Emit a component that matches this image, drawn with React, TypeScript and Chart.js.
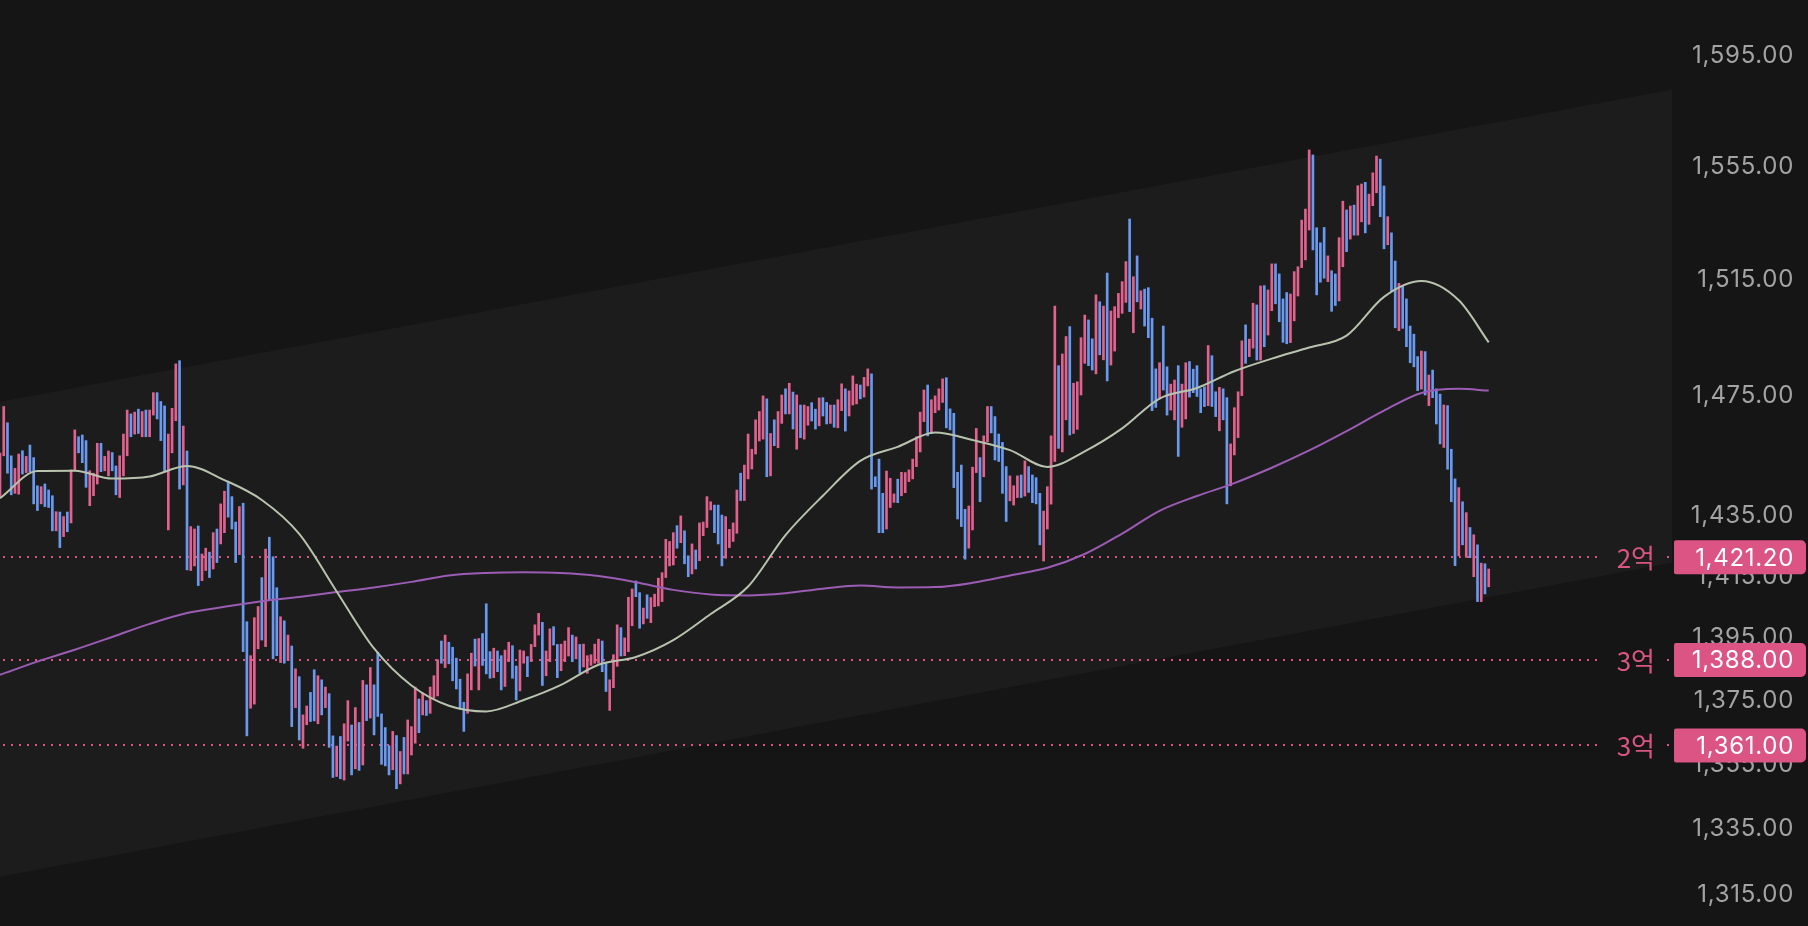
import { useEffect, useRef } from "react";
import { Chart, registerables } from "chart.js";

Chart.register(...registerables);

// slots across the plot width (candles + empty room on the right)
const SLOTS = 448;

// P = rising (pink), B = falling (blue)
const DIRECTION =
  "PPBBPPBPBB" + "BPBBBPBPBP" + "PBBBPPPBPP" + "BBPPPBPBPB" + "PPBBBPPPBP" +
  "BPPBPPBPBP" + "PBBBPBBPPP" + "BPBBBPBPBP" + "BPPBBPBPBB" + "PBPPBPBPBP" +
  "BBBBBPBPBP" + "PPBPBPPPBP" + "BBBBBPPBPB" + "BBPBBPPBBP" + "PBPPPBPPBB" +
  "PPPBPBPPPP" + "PBBPPPBPPP" + "BBPBPPPPPP" + "PBPBBPBPPP" + "PBBBPPPPBP" +
  "PPPPPBPBPP" + "BPBPBPPBBP" + "BBPBPPBPPP" + "BPPBBBBPPP" + "BPPPPPPPBP" +
  "PPPBBBBBBP" + "PPBPPBBBBB" + "PPPBPBBBBP" + "PPPBPPBPPP" + "PBBPBPBPPP" +
  "PPBPBPBBBB" + "PBBPPBPPBB" + "BBBPBBPBBP" + "PPPBPPBPBP" + "PBBBBPPPPP" +
  "PBBBBPBBPP" + "BPBPPBPPPB" + "BPBBPBBBBB" + "PBPBBBPBBB" + "PBPBPBPBP";

const LOWS = [
  1441.2, 1454.8, 1449.0, 1441.8, 1442.3, 1442.0, 1448.7, 1449.2, 1449.5, 1438.8,
  1436.6, 1438.8, 1437.9, 1437.6, 1429.9, 1429.9, 1424.4, 1428.0, 1429.6, 1432.5,
  1449.8, 1455.8, 1452.5, 1444.3, 1438.2, 1441.5, 1445.4, 1449.5, 1449.8, 1448.1,
  1449.8, 1441.8, 1440.9, 1448.1, 1454.8, 1461.2, 1462.1, 1462.3, 1461.2, 1461.2,
  1461.2, 1468.5, 1467.2, 1459.9, 1449.5, 1430.2, 1455.8, 1466.6, 1443.7, 1445.1,
  1417.1, 1416.9, 1418.4, 1412.0, 1413.6, 1416.9, 1414.6, 1417.4, 1419.5, 1425.6,
  1429.3, 1434.4, 1430.5, 1419.5, 1422.1, 1390.7, 1364.0, 1372.7, 1374.0, 1391.6,
  1394.4, 1392.3, 1407.3, 1388.4, 1389.4, 1387.2, 1387.0, 1387.8, 1366.9, 1372.9,
  1362.7, 1360.1, 1367.5, 1368.5, 1368.7, 1367.8, 1370.6, 1372.9, 1360.4, 1351.0,
  1351.3, 1350.6, 1350.2, 1362.4, 1351.8, 1353.7, 1353.2, 1354.9, 1368.8, 1369.6,
  1364.3, 1370.1, 1355.1, 1354.6, 1351.8, 1353.4, 1347.5, 1349.0, 1352.1, 1352.1,
  1358.0, 1361.7, 1365.0, 1370.6, 1370.4, 1371.1, 1375.9, 1376.6, 1387.0, 1385.6,
  1386.8, 1381.4, 1378.8, 1372.4, 1365.4, 1371.1, 1378.5, 1386.1, 1378.5, 1386.3,
  1383.6, 1382.2, 1382.4, 1384.3, 1378.5, 1379.6, 1387.5, 1382.2, 1375.3, 1378.2,
  1387.0, 1382.7, 1387.5, 1392.3, 1396.0, 1379.9, 1383.0, 1387.5, 1392.8, 1382.4,
  1384.6, 1387.5, 1389.3, 1387.5, 1388.4, 1383.8, 1385.8, 1383.8, 1386.3, 1387.0,
  1387.0, 1384.3, 1378.0, 1372.0, 1379.2, 1386.0, 1389.3, 1389.4, 1390.7, 1399.0,
  1408.4, 1398.2, 1399.6, 1401.4, 1400.0, 1405.2, 1405.4, 1406.8, 1414.6, 1418.4,
  1418.7, 1424.2, 1426.0, 1419.1, 1414.9, 1415.8, 1417.4, 1420.1, 1428.3, 1431.0,
  1436.8, 1429.3, 1425.6, 1418.4, 1420.9, 1424.4, 1426.4, 1429.1, 1439.9, 1439.9,
  1447.1, 1450.4, 1455.4, 1459.8, 1460.4, 1447.8, 1448.1, 1458.2, 1457.5, 1465.7,
  1468.9, 1468.9, 1463.8, 1457.0, 1460.9, 1460.4, 1465.1, 1466.5, 1463.8, 1464.9,
  1468.2, 1465.5, 1465.7, 1464.4, 1464.2, 1470.0, 1463.1, 1468.2, 1471.9, 1472.3,
  1474.0, 1474.6, 1478.4, 1443.7, 1444.5, 1429.3, 1429.3, 1430.5, 1437.6, 1439.3,
  1439.2, 1441.5, 1442.5, 1446.2, 1447.1, 1451.2, 1456.1, 1466.3, 1461.5, 1462.3,
  1469.3, 1470.2, 1472.8, 1464.2, 1463.5, 1444.2, 1433.8, 1431.3, 1420.6, 1424.2,
  1430.2, 1449.2, 1439.5, 1447.8, 1459.5, 1462.5, 1453.4, 1452.9, 1442.3, 1433.0,
  1439.8, 1438.4, 1440.9, 1440.9, 1441.4, 1442.6, 1439.2, 1438.8, 1425.3, 1420.0,
  1430.5, 1438.7, 1452.9, 1457.3, 1456.1, 1466.9, 1461.8, 1462.3, 1463.7, 1475.3,
  1486.1, 1485.3, 1483.8, 1482.5, 1489.0, 1487.3, 1480.1, 1485.5, 1490.3, 1501.8,
  1503.3, 1507.1, 1503.9, 1496.6, 1507.3, 1504.8, 1498.9, 1494.9, 1470.0, 1471.1,
  1474.0, 1477.0, 1468.5, 1470.2, 1466.9, 1454.6, 1464.4, 1467.2, 1474.6, 1476.1,
  1474.8, 1469.3, 1471.4, 1471.7, 1471.4, 1468.0, 1463.2, 1466.9, 1438.8, 1444.8,
  1455.1, 1460.9, 1475.1, 1486.1, 1488.4, 1491.3, 1487.2, 1487.2, 1491.8, 1495.8,
  1504.2, 1506.6, 1500.4, 1493.3, 1492.8, 1493.2, 1500.7, 1509.3, 1519.2, 1521.9,
  1532.4, 1525.4, 1509.7, 1514.1, 1515.5, 1514.3, 1504.0, 1506.0, 1507.6, 1519.5,
  1524.8, 1529.2, 1530.6, 1530.6, 1535.3, 1531.4, 1534.4, 1541.0, 1545.6, 1537.1,
  1525.8, 1527.2, 1510.8, 1498.3, 1497.3, 1498.1, 1491.8, 1486.3, 1484.9, 1476.8,
  1477.3, 1475.3, 1471.7, 1474.4, 1465.5, 1458.8, 1457.6, 1450.3, 1439.5, 1418.5,
  1421.7, 1425.3, 1421.2, 1421.1, 1414.9, 1406.8, 1406.8, 1409.3, 1411.6,
];

const HIGHS = [
  1455.7, 1471.4, 1465.9, 1454.8, 1450.6, 1455.4, 1456.5, 1454.6, 1458.4, 1454.2,
  1444.8, 1444.5, 1445.4, 1443.4, 1441.5, 1436.2, 1436.1, 1434.6, 1436.1, 1450.1,
  1463.5, 1461.2, 1461.8, 1459.9, 1449.8, 1449.0, 1459.0, 1459.0, 1454.6, 1456.4,
  1455.9, 1451.4, 1454.8, 1462.1, 1470.2, 1468.9, 1469.5, 1470.5, 1469.7, 1470.2,
  1470.2, 1476.1, 1476.1, 1473.1, 1471.6, 1462.1, 1470.8, 1485.9, 1487.0, 1464.8,
  1456.4, 1431.3, 1430.5, 1431.5, 1422.3, 1424.2, 1422.9, 1429.3, 1430.5, 1438.8,
  1443.0, 1445.9, 1441.2, 1432.8, 1437.9, 1439.0, 1400.3, 1389.4, 1401.6, 1405.2,
  1414.6, 1423.9, 1427.8, 1421.4, 1411.3, 1401.9, 1400.6, 1396.0, 1392.5, 1385.2,
  1382.7, 1370.6, 1373.4, 1377.7, 1384.9, 1383.0, 1381.7, 1379.4, 1377.3, 1364.0,
  1360.8, 1363.8, 1367.8, 1375.1, 1367.4, 1372.9, 1368.2, 1381.5, 1380.1, 1385.6,
  1380.1, 1390.5, 1370.9, 1366.6, 1360.9, 1365.4, 1364.1, 1359.1, 1363.5, 1369.0,
  1366.9, 1379.4, 1375.6, 1377.5, 1375.1, 1379.4, 1383.0, 1388.1, 1394.1, 1396.0,
  1393.7, 1392.1, 1388.6, 1381.9, 1374.6, 1383.6, 1390.2, 1394.7, 1394.9, 1396.5,
  1406.1, 1390.7, 1391.8, 1390.9, 1389.4, 1391.2, 1393.7, 1392.6, 1386.1, 1391.2,
  1390.9, 1389.1, 1393.0, 1399.3, 1403.0, 1400.1, 1390.9, 1398.0, 1398.7, 1393.0,
  1393.1, 1394.1, 1398.4, 1396.0, 1395.4, 1393.0, 1393.1, 1389.4, 1389.7, 1393.1,
  1394.7, 1394.1, 1387.0, 1381.7, 1389.7, 1399.3, 1398.4, 1395.1, 1408.2, 1410.9,
  1413.5, 1409.7, 1404.7, 1409.0, 1408.1, 1409.2, 1414.4, 1416.2, 1427.1, 1426.4,
  1429.3, 1431.6, 1434.8, 1429.9, 1421.7, 1425.6, 1423.6, 1432.5, 1432.8, 1441.2,
  1439.5, 1438.4, 1438.4, 1435.1, 1434.6, 1430.4, 1432.5, 1443.4, 1449.0, 1451.7,
  1462.1, 1457.0, 1466.9, 1469.7, 1475.0, 1474.0, 1462.3, 1466.9, 1469.7, 1475.3,
  1477.4, 1479.3, 1476.3, 1475.3, 1471.9, 1471.9, 1471.4, 1472.7, 1470.5, 1474.3,
  1474.4, 1472.8, 1471.9, 1471.9, 1473.7, 1479.1, 1477.4, 1476.7, 1481.8, 1479.0,
  1478.7, 1481.3, 1484.2, 1482.5, 1447.8, 1453.7, 1442.3, 1449.7, 1447.3, 1442.1,
  1447.0, 1449.3, 1449.2, 1450.1, 1453.7, 1461.2, 1469.5, 1477.0, 1478.7, 1473.7,
  1475.0, 1477.4, 1480.8, 1481.2, 1470.6, 1469.1, 1449.3, 1451.7, 1437.0, 1438.1,
  1451.0, 1464.0, 1454.2, 1461.5, 1471.4, 1471.4, 1468.0, 1462.1, 1459.3, 1451.2,
  1448.1, 1444.8, 1448.1, 1448.4, 1453.1, 1451.2, 1448.4, 1447.5, 1442.3, 1436.4,
  1444.5, 1461.5, 1505.8, 1485.3, 1489.3, 1495.3, 1498.7, 1479.3, 1479.8, 1494.9,
  1502.7, 1501.0, 1494.5, 1509.7, 1507.3, 1505.8, 1517.3, 1504.1, 1505.6, 1510.2,
  1514.3, 1521.3, 1536.3, 1516.0, 1523.3, 1511.1, 1511.7, 1512.2, 1501.6, 1484.2,
  1486.3, 1498.9, 1484.9, 1479.0, 1480.4, 1485.3, 1479.0, 1486.3, 1486.7, 1484.1,
  1485.3, 1477.4, 1478.1, 1492.2, 1488.7, 1476.4, 1477.9, 1477.4, 1474.4, 1458.8,
  1471.0, 1476.4, 1493.8, 1499.3, 1494.4, 1506.8, 1506.2, 1512.8, 1512.9, 1511.4,
  1520.5, 1520.5, 1517.0, 1508.3, 1510.5, 1510.0, 1517.8, 1519.5, 1535.9, 1539.8,
  1560.9, 1559.1, 1533.2, 1527.9, 1533.3, 1523.3, 1518.1, 1517.0, 1529.7, 1542.6,
  1539.5, 1540.9, 1541.2, 1548.1, 1548.7, 1549.3, 1545.1, 1552.7, 1558.7, 1557.6,
  1548.0, 1537.1, 1531.4, 1521.5, 1513.7, 1512.9, 1508.3, 1498.9, 1496.1, 1488.4,
  1490.3, 1490.1, 1482.1, 1483.8, 1477.4, 1475.6, 1471.9, 1471.7, 1457.0, 1447.1,
  1444.2, 1439.5, 1435.9, 1431.0, 1428.6, 1425.3, 1419.3, 1419.1, 1417.4,
];

// moving averages, read every 10th candle
const MA_INDEX = [
  0, 10, 20, 30, 40, 50, 60, 70, 80, 90, 100, 110, 120, 130, 140, 150, 160, 170, 180, 190,
  200, 210, 220, 230, 240, 250, 260, 270, 280, 290, 300, 310, 320, 330, 340, 350, 360, 370,
  380, 390, 398,
];
const MA_SHORT = [
  1440.7, 1449.7, 1449.8, 1447.2, 1447.9, 1451.4, 1446.7, 1440.1, 1428.9, 1410.1,
  1391.7, 1379.9, 1373.5, 1371.7, 1375.3, 1380.1, 1386.5, 1389.0, 1394.4, 1402.8,
  1411.7, 1428.5, 1441.5, 1453.1, 1457.8, 1462.6, 1460.1, 1456.7, 1451.1, 1456.3,
  1464.0, 1474.1, 1477.7, 1483.4, 1487.7, 1491.5, 1495.6, 1509.0, 1514.5, 1507.8,
  1493.3,
];
const MA_LONG = [
  1383.3, 1387.5, 1391.3, 1395.4, 1399.6, 1403.1, 1405.1, 1406.9, 1408.3, 1409.9,
  1411.4, 1413.2, 1415.3, 1416.1, 1416.3, 1416.1, 1415.1, 1413.1, 1410.6, 1409.1,
  1408.8, 1409.5, 1411.0, 1412.0, 1411.4, 1411.5, 1412.9, 1415.3, 1417.8, 1422.3,
  1429.0, 1436.5, 1441.4, 1445.7, 1450.8, 1456.6, 1463.1, 1470.0, 1476.0, 1477.4,
  1476.8,
];

// trend channel: values at the left and right edges of the plot
const CHANNEL_TOP = [1473.0, 1582.8];
const CHANNEL_BOTTOM = [1320.5, 1419.4];

const LEVEL_PRICES = [1421.2, 1388.0, 1361.0];
const LEVEL_TAGS = ["2억", "3억", "3억"];

const Y_TICKS = [1315, 1335, 1355, 1375, 1395, 1415, 1435, 1475, 1515, 1555, 1595];
const Y_MIN = 1305.6;
const Y_MAX = 1615.7;

const BG = "#151515";
const CHANNEL_FILL = "#1c1c1c";
const PINK = "#e2628f";
const BLUE = "#6a9af0";
const LEVEL_PINK = "#dc5484";
const TICK_FONT = "Inter";
const TICK_SPACING = "0.7px";

const fmt = (v: number) =>
  v.toLocaleString("en-US", { minimumFractionDigits: 2, maximumFractionDigits: 2 });

const sparse = (values: number[]) => {
  const out: (number | null)[] = new Array(SLOTS).fill(null);
  MA_INDEX.forEach((idx, k) => (out[idx] = values[k]));
  return out;
};

const overlayPlugin = {
  id: "overlay",
  beforeDraw(chart: any) {
    const { ctx, width, height, scales } = chart;
    const x = scales.x;
    const y = scales.y;
    // wider tracking for the axis digits (kept for the whole frame)
    ctx.letterSpacing = TICK_SPACING;
    ctx.save();
    ctx.fillStyle = BG;
    ctx.fillRect(0, 0, width, height);
    const x0 = x.getPixelForValue(0);
    const x1 = x.getPixelForValue(SLOTS - 1);
    ctx.beginPath();
    ctx.moveTo(x0, y.getPixelForValue(CHANNEL_TOP[0]));
    ctx.lineTo(x1, y.getPixelForValue(CHANNEL_TOP[1]));
    ctx.lineTo(x1, y.getPixelForValue(CHANNEL_BOTTOM[1]));
    ctx.lineTo(x0, y.getPixelForValue(CHANNEL_BOTTOM[0]));
    ctx.closePath();
    ctx.fillStyle = CHANNEL_FILL;
    ctx.fill();
    ctx.restore();
  },
  beforeDatasetsDraw(chart: any) {
    const { ctx, chartArea, scales } = chart;
    ctx.save();
    ctx.letterSpacing = "0px";
    ctx.font = `26px "Noto Sans CJK KR"`;
    ctx.strokeStyle = LEVEL_PINK;
    ctx.lineWidth = 2;
    ctx.setLineDash([2, 6]);
    LEVEL_PRICES.forEach((p, i) => {
      const yy = Math.round(scales.y.getPixelForValue(p));
      const tagRight = chartArea.right - 17;
      const tagLeft = tagRight - ctx.measureText(LEVEL_TAGS[i]).width;
      ctx.beginPath();
      ctx.moveTo(chartArea.left + 3, yy);
      ctx.lineTo(tagLeft - 15, yy);
      ctx.moveTo(chartArea.right - 5, yy);
      ctx.lineTo(chartArea.right, yy);
      ctx.stroke();
    });
    ctx.restore();
  },
  afterDraw(chart: any) {
    const { ctx, chartArea, scales, width } = chart;
    ctx.save();
    LEVEL_PRICES.forEach((p, i) => {
      const yy = scales.y.getPixelForValue(p);
      ctx.letterSpacing = "0px";
      ctx.font = `26px "Noto Sans CJK KR"`;
      ctx.fillStyle = LEVEL_PINK;
      ctx.textAlign = "right";
      ctx.textBaseline = "middle";
      ctx.fillText(LEVEL_TAGS[i], chartArea.right - 17, yy + 1);

      const bx = chartArea.right + 2;
      const bw = width - 2 - bx;
      ctx.beginPath();
      ctx.roundRect(bx, yy - 17, bw, 34, [2, 5, 5, 2]);
      ctx.fill();
      ctx.fillStyle = "#ffffff";
      ctx.letterSpacing = TICK_SPACING;
      ctx.font = `24px ${TICK_FONT}`;
      ctx.fillText(fmt(p), width - 14, yy + 1);
    });
    ctx.restore();
  },
};

export default function App() {
  const canvasRef = useRef<HTMLCanvasElement | null>(null);
  const chartRef = useRef<Chart | null>(null);

  useEffect(() => {
    const ctx = canvasRef.current?.getContext("2d");
    if (!ctx) return;
    chartRef.current?.destroy();

    const labels = Array.from({ length: SLOTS }, (_, i) => String(i));
    const bars: ([number, number] | null)[] = new Array(SLOTS).fill(null);
    const colors: string[] = new Array(SLOTS).fill(BLUE);
    HIGHS.forEach((h, i) => {
      bars[i] = [LOWS[i], h];
      colors[i] = DIRECTION[i] === "P" ? PINK : BLUE;
    });

    chartRef.current = new Chart(ctx, {
      type: "bar",
      data: {
        labels,
        datasets: [
          {
            type: "line",
            label: "MA long",
            data: sparse(MA_LONG),
            borderColor: "#9b5cb4",
            borderWidth: 2,
            pointRadius: 0,
            spanGaps: true,
            cubicInterpolationMode: "monotone",
            order: 1,
          },
          {
            type: "line",
            label: "MA short",
            data: sparse(MA_SHORT),
            borderColor: "#b8c3ae",
            borderWidth: 2,
            pointRadius: 0,
            spanGaps: true,
            cubicInterpolationMode: "monotone",
            order: 0,
          },
          {
            type: "bar",
            label: "price",
            data: bars as any,
            backgroundColor: colors,
            borderWidth: 0,
            barThickness: 2,
            order: 2,
          },
        ],
      },
      options: {
        animation: false,
        responsive: true,
        maintainAspectRatio: false,
        events: [],
        layout: { padding: { left: 0, top: 0, bottom: 0, right: 14 } },
        plugins: {
          legend: { display: false },
          tooltip: { enabled: false },
        },
        scales: {
          x: {
            display: false,
            offset: false,
          },
          y: {
            type: "logarithmic",
            position: "right",
            min: Y_MIN,
            max: Y_MAX,
            grid: { display: false },
            border: { display: false },
            afterFit: (s: any) => {
              s.width = 122;
              // let the plot use the full height; labels may overhang
              s.paddingTop = 0;
              s.paddingBottom = 0;
            },
            afterBuildTicks: (s: any) => {
              s.ticks = Y_TICKS.map((v) => ({ value: v }));
            },
            ticks: {
              autoSkip: false,
              crossAlign: "far",
              color: "#a3a3a3",
              font: { family: TICK_FONT, size: 24 },
              callback: (v: any) => fmt(Number(v)),
            },
          },
        },
      },
      plugins: [overlayPlugin],
    });

    return () => {
      chartRef.current?.destroy();
      chartRef.current = null;
    };
  }, []);

  return (
    <div style={{ position: "fixed", left: 0, top: 0, width: 1808, height: 926, background: BG }}>
      <canvas ref={canvasRef} />
    </div>
  );
}
